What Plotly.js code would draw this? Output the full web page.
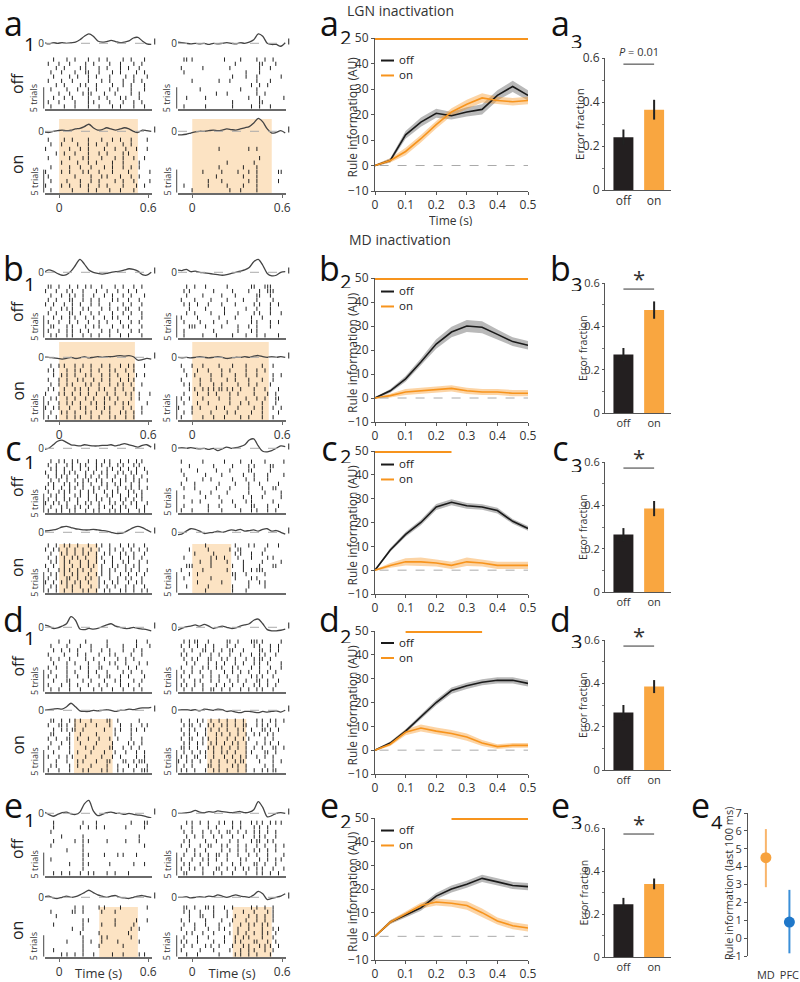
<!DOCTYPE html>
<html><head><meta charset="utf-8">
<script src="https://cdn.plot.ly/plotly-3.0.1.min.js"></script>
<style>body{margin:0;background:#fff}#chart{width:800px;height:982px}</style>
</head><body><div id="chart"></div>
<script>
// ---------------- DATA ----------------
const psthT = [-0.1,-0.07,-0.04,-0.01,0.02,0.05,0.08,0.11,0.14,0.17,0.2,0.23,0.26,0.29,0.32,0.35,0.38,0.41,0.44,0.47,0.5,0.53,0.56,0.59,0.62];
const RASTER_T0 = -0.1, RASTER_BIN = 0.018;

// PSTH traces (arbitrary units, 0 = baseline)
const psthA_offL = [0.5,-0.5,0.5,0,0.5,0,0.5,1,3,6,8,6,2,1,1.5,2.5,1.5,0.5,1,2,4.5,5,2,-0.5,-1];
const psthA_offR = [1,0.5,0,-0.5,0,-0.5,0,-1,0,-0.5,0,0.5,0,-0.5,0.5,0,1,3,8,6,0,-1,-1,-2.5,0.5];
const psthA_onL  = [-0.5,-1,0,0.5,1,0.5,1,2,2.5,4,6,3,1,1.5,3,2,1,2,3,2,0,-1,1,0.5,0];
const psthA_onR  = [-3,-3,-2.5,-1.5,-0.5,0,0,0.5,1,0.5,1,2,1.5,1,2,3,4,7,11,8,2,-1.5,-1,0.5,-1.5];
const psthB_offL = [0,2,1,-1,-2.5,-2,1,6,11,7,2,0,-1,-1.5,-1,0,0.5,1,2,3,2.5,1,-2,-2.5,0];
const psthB_offR = [2,1.5,2.5,0.5,1,0,-0.5,-1,-1.5,-2,-2.5,-2,-1,0,1,2,4,9,11,6,-1,-3,-2.5,0,0.5];
const psthB_onL  = [0,0,-0.5,-1,-1.5,-1,0,-1,-0.5,0.5,-0.5,0,0.5,0,0.5,0.5,1,1.5,1,1.5,0.5,-2.5,-2,-1,-1.5];
const psthB_onR  = [0,-0.5,0,-0.5,0,0.5,0,-0.5,0,0.5,0,-1,-0.5,0,0,0.5,0,1,1.5,0.5,0,0.5,0,0.5,0];
const psthC_offL = [-1,0,3,6,7,5,3,2.5,2,3,2.5,2,2,2.5,2.5,3,2,3,4,3,2,1,2.5,3,1];
const psthC_offR = [0,0.5,0,0.5,0,-0.5,0,-1,0,-2,-0.5,1,0,0.5,1.5,3,7,8,2,-2.5,-3,-2,0,2,1.5];
const psthC_onL  = [1,1.5,2,3,4.5,5,4,3,2.5,2,2,2.5,2,1.5,1,0,-1,-1,0,2,4,5,4,2,0];
const psthC_onR  = [-2,-1.5,1,3,2.5,1,-1,-0.5,0,1,0,1,2,1.5,2.5,1,1.5,2,1,2.5,3,1,1.5,0,-1.5];
const psthD_offL = [2,1,-1,-0.5,1,3,9,6,-1.5,-2,-1,-1.5,-1,0.5,2,3,1,0,-1,-1,0,-1,-1.5,-2,-3];
const psthD_offR = [-2.5,-1,0.5,1,2,1,2.5,1,-1,0,1,0,-1,-0.5,1,2,3,6,7,3,-2,-3,-3,-2.5,-1.5];
const psthD_onL  = [0,0.5,1,1.5,1,3,6,3,-0.5,-1,-1,0,-0.5,0,0.5,0,-1,0,0,1,0.5,1.5,2,2,2.5];
const psthD_onR  = [0,0.5,0.5,0,0.5,-0.5,1,0.5,0,1,0.5,-1,-0.5,-1.5,-2,-1,-1,-1.5,-2,-1,-1.5,-1,-0.5,-1.5,0];
const psthE_offL = [1,-1,-2.5,-1,0.5,1,-0.5,-1,1,8,11,2,-2,-1,0.5,1,0,0,-1,0,-1,-1.5,-2,-3,-4];
const psthE_offR = [0,0,0.5,1,2.5,1,0.5,1.5,1,2,1.5,1,0.5,1,1.5,0.5,1,3,10,5,-3,-2,0,0.5,0];
const psthE_onL  = [0.5,1,-0.5,-1,0,1,0,0.5,2,4,6,4,2,1,0,1,1.5,0,-0.5,-1,0,1,1.5,0.5,0];
const psthE_onR  = [0,0,0.5,-0.5,0,0.5,0,1,0.5,2,1,0,1,2,1,0.5,0,2,5,3,-2,-1,0,1,3];

// Rasters: one string per trial (first = bottom), '|' = spike in an 18 ms bin starting at -0.1 s
const rasterA_offL = [
"..|....|...|....|...|....|..|....|...|..",
".|...|.....|....|.|.....|....|...|..|...",
"...|...|..|.....|...|..|....|.|....|....",
".....|...|....|.||....|...|.....|..|....",
"..|.....|...|...|..|....|..|....|....|..",
"....|..|.....|.|...|.....|...|..|....|..",
".|....|...|.....|....|..|....|...|..|...",
"...|.....|..|...|..|....|.....|..|....|.",
"..|...|....|...||...|....|..|.....|..|..",
"....|..|.....|.|....|..|....|..|...|....",
".|...|...|.....|..|.....|...|....|..|...",
"...|....|..|....|...|..|.....|..|....|.."];
const rasterA_offR = [
"..|.......|.........|......|..|...|.....",
"....................|.........||........",
"...|......|...............|...|........|",
"..............|...|..........|..|.......",
"........|..............|.....|..........",
"...........................|..|..|.....",
".....|.........|...|.........|....|.....",
"....................|....|...|........|.",
"..|......................|....|.........",
".|.......|.........|..........|...|.....",
".....................|........||....|...",
"..||.|...........|.....|.....|..|..|...."];
const rasterA_onL = [
"..|.......|.....|..|....|...|....|......",
"|.....|..|...|..|...|..|.....|....|..|..",
"..|.....|....|...|..|.....|..|...|.....|",
".|.........|.....|...|.|....|...|..|....",
"|.....|..|....|.|...|....|.....|.......|",
"..|......|...|...|....|..|...|..|..|....",
"......|.....|...|..|.....|...|.....|....",
".|.......|....|.|....|....|..|...|...|..",
"....|..|...|....|...|..|.....|.|........",
"|........|...|..|.....|...|...|...|...|.",
"..|...|.....|...|..|...|.....|..|.......",
".|.....|..|.....|....|...|..|...|.....|."];
const rasterA_onR = [
".....|.............|...|.....|..........",
"..|........|......|.....|....|..........",
"...........|....|.........|..|.......|..",
"..............|.........|....|..........",
".........|......|.....|...|..|.......||.",
"...............|........|....|.........",
"..................|.........|...........",
"..............................|.........",
"........................................",
"...............|..........|..|..........",
"........................................",
"........................................"];
const rasterB_offL = [
"..|.|...|.|...|..|..|...|...|..|....|...",
".|...|..|.|..|..|....|..|..|....|..|....",
"..||....|.|....|..|.|....|...|.|....|...",
".|...|...|..|...|...|..|....|...|..|....",
"...|..|..|.|...|..|...|..|.|...|....|...",
".|..|....||..|...|..|....|...|..|...|...",
"..|...|.|.|...|.|....|..|..|..||...|....",
"|..|...|..|..|...|..|...|....|..|...|...",
".|..|....||...|..|..|....|.|...|...|....",
"..|...|..|.|..|...|...|..|...|..|....|..",
"|...|...|.|...|....|...|...|...|..|.....",
".||..|...|..|..|.|...|....|..|...|..|..."];
const rasterB_offR = [
"..|......|....|.....|....|...|..|....|..",
"..|..........|........|....|.|.........",
"....|||...|.....|.....|...|..|....|....",
"..|.....|....|....|........|.|....|..|.",
".|.....|.......|.....|.....|...|.......",
"...|..|.....|....|....|.....|.|...|...|",
"....|.....|......|.......|...|....|....",
"..|.|..|...|....|....|......|.|...|..|.",
".|....|.....|.....|.....|....|.....|...",
"...|.....|......|....|.......||...|....",
"..|.|........|......|.....|...|..|||...",
"...|..|...|.......|........||...|||...."];
const rasterB_onL = [
".|..|...|..|.|...|..|...|.|...|..|......",
"..|...|.|..|...|.|...|..|...|.|..|..|...",
"|..|.|...|...|.|...|..|.|....|..|...|...",
".|...|..|.|..|...|.|..|...|..|.|......|.",
"..|.|...|..|...|..|...|.|..|....|..|....",
"|....|.|..|..|..|..|...|..|...|.|..|...|",
".|.|...|...|.|..|...|.|...|..|...|......",
"..|..|..|.|....|.|..|...|..|.|..|...|...",
".|...|..|...|.|...|..|..|...|..|.|......",
"...|..|.|..|...|.|...|..|..|...|..|..|..",
".|.|....|..|.|...|..|...|.|...|..|......",
"..|..|.|...|..|..|...|..|...|..|.|...|.."];
const rasterB_onR = [
".|.......|...|...|.....|..|....|...|....",
"..|..|......|.....|..|.....|...|.....|..",
"|....|..|.....|..|....|.....|..|...|..|.",
"..|....|...|.......|...|..|....|....|...",
".|..|....|.....|...|.....|...|..|...||..",
"..|....|...|..|....|..|.....|....|..|...",
"....|.|..|.|.|.||.|.|..|....|...|....|..",
"..|.|...|....|..|.....|...|..|....|.....",
".|......|...|.....|..|....|....|...|....",
"...|..|.....|...|....|...|...|.....|..|.",
"..|....|...|....|..|.....|...|..|.......",
".|...|...|.....|....|....|.....|...|...."];
const rasterC_offL = [
".|..|.|..|.|...|..|.|...|.|.|..|...|.|.",
"..|...|.|..|.|..|...|.|..|..|.|...|..|.",
"|..|.|..|...|..|.|..|...|.|..|..|.|...|",
".|..|..|.|..|...|..|.|..|...|.|..|..|..",
"..|.|..|...|.|..|..|...|.|..|..|..|.|..",
".|...|.|.|...|..|.|...|..|.|...|.|..|..",
"|..|..|..|.|..|...|.|..|...|..|.|..|..|",
".|.|...|.|..|.|..|...|.|..|.|...|..|...",
"..|..|..|..|..|.|..|.|...|..|.|..|.|..|",
".|..|.|.|...|..|.|..|..|..|...|..|..|..",
"|...|..|.|.|...|..|..|.|...|.|..|.|...|",
"..|.|..|..|..|..|..|...|.|..|..|..|..|.",
".|..|...|.|..|.|...|.|..|..|.|...|.|...",
"..|..|.|..|.|...|..|..|.|...|..|..|.|.."];
const rasterC_offR = [
".|...|.....|....|......|...|.|...|..|...",
"..|........|...|.....|.....||....|...|..",
".....|..|.......|...|....|.|.......|....",
"..|.......|....|........|..|...|......|.",
"........|...|.....|.......|.....|.....|.",
"..|...|.......|....|......|....|...||...",
".|....|........|.....|....|...|......|..",
"...|.....|..|.......|....|..|....|......",
"..|.......|.....|.......|...|....|.....|",
".|.....|......|....|......||......|.....",
"....|........|......|.....|.|.....||....",
".|.......|.......|.....|...|....|......|"];
const rasterC_onL = [
".|..|..|..|...|.|..|..|.|...|.|..|..|.|",
"..|.|...|.|..|...|..|..|..|...|..|...|.",
"|..|..|.|..|.|..|...|.|..|.|...|..|.|..",
".|..|...||..|..|.|..|...|..|..|.|...|..",
"..|.|..|..|.|...|..|.|..|...|..|..|..|.",
".|...|.|.|..|.|..|...|..|.|...|.|..|..|",
"|..|...|..|..|..|.|..|...|.|..|..|.|...",
"..|.|..|.|...|..|..|..|..|...|.|...|..|",
".|..|..|..|.|..|...|.|...|..|..|.|..|..",
"..|...|.|..|..|.|..|..|.|...|.|..|...|.",
"|..|.|..|..|..|..|..|...|.|..|..|..|..|",
".|..|..|.|..|...|..|.|..|...|..|.|...|."];
const rasterC_onR = [
"..........|.........|....|..............",
"...|.......|........|.....|.....|.......",
".......|........|.........|...|.|.......",
"..|.........|........|.....|.|..........",
"....|..|............||...|......|.......",
".|.......|........|.....|..|.|||........",
"...|||......|.......|...|.....|....||...",
"........|...|.....|.....|......|......|.",
"..|.........|.|..|....|....|.....|.|....",
"......|......|.......|.|...|...|........",
"....|......|.......|..||........|.......",
"..........|..........|....|.|....|...|.."];
const rasterD_offL = [
"..|..|...|...|....|..|...|...|...|..|...",
".|....|..|..|...|...|..|....|..|...|....",
"...|....||....|..|....|...|.|....|..|...",
".|..|...|...|...|...|..||...|..|.....|..",
"..|.....|..|....|..|...|.....|..|...|...",
".|..|...|....|..|...||.....|...|..|.....",
"...|....|..|....|...|...|.|...|....|..|.",
"..|..|...|.....|..|...|....|..|..|......",
".|.....|....|..|....|...|.|.....|...|...",
"...|..|..|..|....|...|..|....|...|..|...",
"..|.....|....|...|.....|.....|....|....|",
".....|...|.....|.......|..........|...|."];
const rasterD_offR = [
"..|..|...|..||..|..|...|..|..|.|...|....",
".|.|..|..|....|..|..|...|...|.|..|..|...",
"..|...|.|...|..|...|..|..|...||..|...|..",
".|..|....|..|..|..|...|....|.|.|...|....",
"..|..|..|...|....|..|..|..|...|..|..|...",
".|...|...|.|..|.|...|.|....|..|...|...|.",
"...|..|....|..|..|...|..|...|.|..|....|.",
"..|..|.|...||...|.|..|...|..|.||..|.....",
".|.|....|...|..|...|...|...|..|.|...|...",
"..|..|...||..|..|..||...|.....||..|..|..",
".|..|..|..|..|....|..|......|.|...|..|..",
"..|.|.||...|......||..|....|||.|......|."];
const rasterD_onL = [
".|...|...|....|.|....|.|...|.|...|..|||.",
"..|.|....|..|....|.....|...|...|..|...|.",
"....|...|...|.|....|...||....||..|.|||..",
".|...|..|.|....|.....|...|..|.....|..|..",
"...|.....|..|....|....|...|...|...|..|..",
".|...|...|.....|..|.....||...|..|..|....",
"..|...|..|...|.....|.....|.....|.|..|...",
".|..|...||..|...|...|...|..|....|...|...",
"..||.....|...|.....|......|.....|.......",
"...|..|.|.||..|.......|...|.|...|.|..|..",
".|...||.|..|...|...|....|...|...|...|.|.",
"..||..|..|.|.|...|.....||..|.......|...."];
const rasterD_onR = [
".|.|..|...|..|.|..|...|..|..|..|.|.||...",
"..|..|.....||..|....|.|..|......|..|....",
"|..|.|..|...|..|..|..|.||.....|....|..|.",
".|.|..||..|..|...|..|..|.|...|..|..|....",
"..|..|..|.|..|..|.|..|...|.|....||..|...",
".||.|..|...|.|..|..|..|..|..|..|...||..|",
"..|.|..|.|..|.|..|..|.|..|...|..|.|..|..",
".|..||...|.|..|...|..|..|.|.....|..|....",
"..|.|..|..|...|.|..|..|..|..|.|..|.|....",
".|..|.|...|.|..|..|...|.|..|...||.|..|..",
"..|.||..|..|.|..|.|..|..||...|.|.|..|...",
".|..|..|.|..|..|..|..|..|....|.|..|.|..|"];
const rasterE_offL = [
"...|..|..|...|..|.|....|..|....|........",
"..............|.........................",
".........|....|.|.......|........|...|..",
"..|...........|.........................",
"..............|.|.....|....|.|....|.....",
"........|.....|.........................",
"..|...........|......................|..",
"...|.......|..|.|......|......|....|....",
"......|.......|....................|....",
"..|.....................................",
"...|.........|..|..|..|.......|......|..",
"...|..........|....|............|....||."];
const rasterE_offR = [
"..||.....|...|..|...|....|...|.|..|..|..",
".|..|.|..|....||..|..|..|.|..|.|...|...|",
"..|.|...|..|....|...|..|....||..|...|...",
".|...|...|.|..|...|....|.|....|..|..|.|.",
"..|...|.|..|..||..|...|...|..|...|.....|",
"...|..|...|.....|..|..|..|..|.|..|..|...",
".|..|...|..||...|.|...|..|...|..|...|..|",
"..|.|.....|...|....|..|....|.||..|.|....",
"...|..|..|...|..|...|...|...|.|.|...|...",
"..|..|...|..|..|..||..|..|..|.|..|..|...",
".|...|.....|..|.....|..|....|.|..|......",
"...|.|..|..|...|.|..|..|...|.|.|..|.|.|."];
const rasterE_onL = [
"......|.|..|..|...|......|...|.....|.|..",
"...|..........|.........................",
"..............|.....|........|..........",
"........|.....|..|...|.....|.......|....",
"..............|......|.|........|.......",
".............|......|..........|........",
"..........|...|.................|..|....",
"...|..........|......|....|......|......",
"..............|.|.........|.......|...|.",
"....|...................................",
"..|.......||..|......|....|............",
"...........|..|.....|.|.....|.........|."];
const rasterE_onR = [
"...|...|.......|.....|.|..|..|....|.....",
".|......|....|.....|...|..|.|...|..|....",
"..|..|....|.|..|....|...|.|...|.|.|..|..",
".|.|...|.....|...|...|.|....||...|..|...",
"..|....|...|.....|...|..|.|....|...|....",
"...|.|...|...|.....|..|..|..|..|.|..|...",
".|....|....|...|.|....|...|....|...|.|..",
"..|...|...|....|...|...|..|.|..|.|......",
".|..|.....|.....|...|....|...|..|..|....",
"....|...||...|....|..|....|..|..|..|....",
"..|.|...|....|....|.....|...|....|.|....",
"..||..|...||.|...|..|......|.|..|..|...."];

// Event markers (red triangles) per row: [off-left, off-right, on-left, on-right]
const eventTimes = [[0.21,0.45,0.19,0.445],[0.09,0.445,null,null],[0.04,0.40,0.05,null],[0.07,0.44,0.065,null],[0.165,0.44,0.165,null]];
// Laser-on window in rasters (s) per row
const lightOn  = [0, 0, 0, 0.10, 0.27];
const lightOff = [0.53, 0.51, 0.26, 0.36, 0.53];

// Rule information (AU)
const ruleT = [0,0.05,0.1,0.15,0.2,0.25,0.3,0.35,0.4,0.45,0.5];
const ruleA_off = [0,2,12,17,20.5,19.5,21,22,27.5,31,27.5];
const ruleA_offSem = [0.3,0.8,1.5,1.8,1.8,1.5,1.8,2,2,2.2,2];
const ruleA_on = [0,2,5.5,10.5,16,21,24,26.5,25.5,25,25.5];
const ruleA_onSem = [0.3,0.8,1.5,1.5,1.5,1.5,1.8,1.8,1.5,1.5,1.5];
const ruleB_off = [0,3,8,15,22.5,27.5,30,29.5,26.5,23.5,22];
const ruleB_offSem = [0.3,0.8,1.2,1.5,2,2.2,2.5,2.5,2,1.8,1.8];
const ruleB_on = [0,1,2.5,3,3.5,4,3,2.5,2.5,2,2];
const ruleB_onSem = [0.3,0.8,1.2,1.3,1.3,1.3,1.3,1.3,1.3,1.3,1.3];
const ruleC_off = [0,8.5,15,20,26.5,28.5,27,26.5,25,20.5,17.5];
const ruleC_offSem = [0.3,0.8,1,1.2,1.3,1.3,1.2,1.2,1.2,1,1];
const ruleC_on = [0,2,3.5,3.5,3,2,3.5,3,2,2,2];
const ruleC_onSem = [0.3,1,1.5,1.8,1.5,1.5,1.8,1.5,1.5,1.5,1.5];
const ruleD_off = [0,3,8,14,20,25,27,28.5,29.3,29.3,28];
const ruleD_offSem = [0.3,0.6,0.8,1,1.2,1.3,1.3,1.3,1.3,1.3,1.3];
const ruleD_on = [0,2.5,7.5,9.3,8,7,5.5,3,1.5,2,2];
const ruleD_onSem = [0.3,0.8,1.2,1.5,1.5,1.5,1.5,1.3,1,1,1];
const ruleE_off = [0,6,9,12,17,20,22,24.5,23,21.5,21];
const ruleE_offSem = [0.3,0.8,1,1.2,1.3,1.5,1.5,1.5,1.5,1.5,1.5];
const ruleE_on = [0,6,9.5,13,14.5,14,13,10,6.5,4.5,3.5];
const ruleE_onSem = [0.3,0.8,1,1.2,1.5,1.5,1.8,1.8,1.5,1.5,1.5];
// Inactivation period bars (top of rule-info panels)
const barStart = [0, 0, 0, 0.1, 0.25];
const barEnd   = [0.5, 0.5, 0.25, 0.35, 0.5];
const ruleTicks = [0,0.1,0.2,0.3,0.4,0.5];
const ruleTickText = ['0','0.1','0.2','0.3','0.4','0.5'];
const ruleYTicks = [-10,0,10,20,30,40,50];
const ruleYTickText = ['\u221210','0','10','20','30','40','50'];
const legendNames = ['off', 'on'];

// Error fraction
const errCats = ['off','on'];
const errOff = [0.24, 0.27, 0.265, 0.265, 0.245];
const errOffSe = [0.035, 0.03, 0.03, 0.035, 0.03];
const errOn = [0.365, 0.475, 0.385, 0.385, 0.34];
const errOnSe = [0.045, 0.04, 0.035, 0.03, 0.025];
const sigText = ['<i>P</i> = 0.01', '*', '*', '*', '*'];
const errTicks = [0, 0.2, 0.4, 0.6];
const errTickText = ['0','0.2','0.4','0.6'];

// e4
const e4Cats = ['MD','PFC'];
const e4Val = [4.5, 0.9];
const e4Hi = [6.1, 2.7];
const e4Lo = [2.85, -0.85];
const e4Ticks = [-1,0,1,2,3,4,5,6,7];

const rowLetters = ['a','b','c','d','e'];
const rastersByRow = [
  [rasterA_offL, rasterA_offR, rasterA_onL, rasterA_onR],
  [rasterB_offL, rasterB_offR, rasterB_onL, rasterB_onR],
  [rasterC_offL, rasterC_offR, rasterC_onL, rasterC_onR],
  [rasterD_offL, rasterD_offR, rasterD_onL, rasterD_onR],
  [rasterE_offL, rasterE_offR, rasterE_onL, rasterE_onR]];
const psthByRow = [
  [psthA_offL, psthA_offR, psthA_onL, psthA_onR],
  [psthB_offL, psthB_offR, psthB_onL, psthB_onR],
  [psthC_offL, psthC_offR, psthC_onL, psthC_onR],
  [psthD_offL, psthD_offR, psthD_onL, psthD_onR],
  [psthE_offL, psthE_offR, psthE_onL, psthE_onR]];
const ruleByRow = [
  [ruleA_off, ruleA_offSem, ruleA_on, ruleA_onSem],
  [ruleB_off, ruleB_offSem, ruleB_on, ruleB_onSem],
  [ruleC_off, ruleC_offSem, ruleC_on, ruleC_onSem],
  [ruleD_off, ruleD_offSem, ruleD_on, ruleD_onSem],
  [ruleE_off, ruleE_offSem, ruleE_on, ruleE_onSem]];

// ---------------- LAYOUT GEOMETRY (pixels) ----------------
const FONT = '"Open Sans", "Noto Sans", Arial, sans-serif';
const W = 800, H = 982;
const fx = p => p / W;
const fy = p => 1 - p / H;
const ROWGEOM = [
  {psthOff:[28,48],  rastOff:[57,109],  psthOn:[116,136], rastOn:[137,193], shadeTop:119},
  {psthOff:[257,277],rastOff:[284,338], psthOn:[342,362], rastOn:[363,420], shadeTop:342},
  {psthOff:[433,453],rastOff:[459,513], psthOn:[517,537], rastOn:[543,593], shadeTop:544},
  {psthOff:[612,632],rastOff:[639,692], psthOn:[695,715], rastOn:[718,773], shadeTop:719},
  {psthOff:[798,818],rastOff:[820,876], psthOn:[882,902], rastOn:[905,957], shadeTop:907}];
const COLX = [[45,152],[178,286]];
const T_RANGE = [-0.095, 0.625];
const RULE_Y = [[38,191],[278,422],[451,594],[631,774],[818,960]];
const BAR_Y = [[58,190],[283,413],[462,592],[640,770],[828,957]];
const LETTER_BASE = [35, 280, 460, 631, 817];
const SUB_Y = [[44,37,41],[284,281,284],[462,456,465],[638,636,641],[820,821,822]];
const LEG_MID = [29, 20, 20, 18.5, 19];
const LEG_FONT = 11.5, LEG_GAP = LEG_FONT * 1.3;

const C_OFF = '#1a1a1a', C_ON = '#f7941d';

const layout = {width:W, height:H, margin:{l:0,r:0,t:0,b:0,pad:0},
  paper_bgcolor:'#fff', plot_bgcolor:'rgba(0,0,0,0)', showlegend:false,
  font:{family:FONT, size:12, color:'#333'}, shapes:[], annotations:[]};
const data = [];
let nx = 0, ny = 0;
const axName = (k, n) => k + 'axis' + (n === 1 ? '' : n);
const axRef = (k, n) => k + (n === 1 ? '' : n);
const base = {showgrid:false, zeroline:false, fixedrange:true};
function addX(o){ nx++; layout[axName('x',nx)] = Object.assign({}, base, o); return nx; }
function addY(o){ ny++; layout[axName('y',ny)] = Object.assign({}, base, o); return ny; }
function ann(o){ layout.annotations.push(Object.assign({showarrow:false, xref:'paper', yref:'paper'}, o)); }

function rasterPanel(r, col, cond, trials, psth, evt){
  const g = ROWGEOM[r];
  const xr = COLX[col];
  const rd = cond === 'off' ? g.rastOff : g.rastOn;
  const pd = cond === 'off' ? g.psthOff : g.psthOn;
  const showT = cond === 'on' && (r === 0 || r === 1 || r === 4);
  const xi = nx + 1, yr = ny + 1, yp = ny + 2;
  const xo = {domain:[fx(xr[0]), fx(xr[1])], range:T_RANGE, anchor:axRef('y',yr),
    showline:true, linecolor:'#6a6a6a', linewidth:1.5,
    tickmode:'array', tickvals:[0,0.6], ticktext:['0','0.6'],
    ticks: showT ? 'outside' : '', ticklen:3, tickcolor:'#6a6a6a',
    showticklabels: showT, tickfont:{size:12, color:'#333'}};
  if (r === 4 && cond === 'on') xo.title = {text:'Time (s)', font:{size:13, color:'#333'}, standoff:1};
  addX(xo);
  addY({domain:[fy(rd[1]), fy(rd[0])], range:[-0.6, trials.length - 0.4], anchor:axRef('x',xi), visible:false});
  addY({domain:[fy(pd[1]), fy(pd[0])], range:[-4, 13], anchor:axRef('x',xi),
    tickmode:'array', tickvals:[0], ticktext:['0'], ticks:'', showline:false,
    tickfont:{size:10, color:'#333'}});
  const xa = axRef('x',xi), ya = axRef('y',yr), yb = axRef('y',yp);
  const xs = [], ys = [];
  trials.forEach((row, k) => {
    for (let i = 0; i < row.length; i++) if (row[i] === '|') { xs.push(RASTER_T0 + (i + 0.5) * RASTER_BIN); ys.push(k); }
  });
  data.push({x:xs, y:ys, xaxis:xa, yaxis:ya, type:'scatter', mode:'markers',
    marker:{symbol:'line-ns-open', size:3, color:'#222', line:{width:1, color:'#222'}}, hoverinfo:'skip'});
  data.push({x:psthT, y:psth, xaxis:xa, yaxis:yb, type:'scatter', mode:'lines',
    line:{color:'#444', width:1.3, shape:'spline', smoothing:0.8}, hoverinfo:'skip', cliponaxis:false});
  if (evt !== null) {
    data.push({x:[evt], y:[-1.4], xaxis:xa, yaxis:ya, type:'scatter', mode:'markers',
      marker:{symbol:'triangle-up', size:7, color:'#e31e24'}, cliponaxis:false, hoverinfo:'skip'});
  }
  layout.shapes.push({type:'line', xref:xa + ' domain', x0:0, x1:1, yref:yb, y0:0, y1:0,
    line:{color:'#aaa', width:1, dash:'dash'}});
  layout.shapes.push({type:'line', xref:xa + ' domain', x0:1.025, x1:1.025, yref:yb, y0:-1, y1:4,
    line:{color:'#444', width:1.2}});
  layout.shapes.push({type:'line', xref:xa + ' domain', x0:-0.012, x1:-0.012, yref:ya, y0:-0.5, y1:4.5,
    line:{color:'#444', width:1}});
  layout.annotations.push({showarrow:false, xref:xa + ' domain', x:-0.02, xanchor:'right',
    yref:ya, y:2, yanchor:'middle', text:'5 trials', textangle:-90, font:{size:9, color:'#333'}});
  if (cond === 'on') {
    layout.shapes.push({type:'rect', xref:xa, x0:lightOn[r], x1:lightOff[r], yref:'paper',
      y0:fy(rd[1]), y1:fy(g.shadeTop), fillcolor:'#fce3c3', line:{width:0}, layer:'below'});
  }
}

function band(x, m, s, xa, ya, color){
  const up = m.map((v,i) => v + s[i]);
  const lo = m.map((v,i) => v - s[i]);
  return {x:x.concat(x.slice().reverse()), y:up.concat(lo.reverse()), xaxis:xa, yaxis:ya,
    type:'scatter', mode:'lines', fill:'toself', fillcolor:color, line:{width:0}, hoverinfo:'skip'};
}

function rulePanel(r){
  const dom = RULE_Y[r];
  const [off, offS, on, onS] = ruleByRow[r];
  const xi = nx + 1, yi = ny + 1;
  addX({domain:[fx(375), fx(528)], range:[0, 0.5], anchor:axRef('y',yi),
    showline:true, linecolor:'#555', linewidth:1, ticks:'outside', ticklen:3, tickcolor:'#555',
    tickmode:'array', tickvals:ruleTicks, ticktext:ruleTickText, tickfont:{size:12, color:'#333'}});
  addY({domain:[fy(dom[1]), fy(dom[0])], range:[-10, 50], anchor:axRef('x',xi),
    showline:true, linecolor:'#555', linewidth:1, ticks:'outside', ticklen:3, tickcolor:'#555',
    tickmode:'array', tickvals:ruleYTicks, ticktext:ruleYTickText, tickfont:{size:12, color:'#333'}});
  ann({x:fx(352), y:fy((dom[0] + dom[1]) / 2 + 3), xanchor:'center', yanchor:'middle', textangle:-90,
    text:'Rule information (AU)', font:{size:12, color:'#333'}});
  if (r === 0) ann({x:fx(451), y:fy(220), xanchor:'center', yanchor:'middle', text:'Time (s)',
    height:12, borderpad:0, font:{size:12, color:'#333'}});
  const xa = axRef('x',xi), ya = axRef('y',yi);
  layout.shapes.push({type:'line', xref:xa + ' domain', x0:0.03, x1:1, yref:ya, y0:0, y1:0,
    line:{color:'#aaa', width:1, dash:'dash'}});
  data.push(band(ruleT, off, offS, xa, ya, 'rgba(80,80,80,0.4)'));
  data.push(band(ruleT, on, onS, xa, ya, 'rgba(247,148,29,0.4)'));
  data.push({x:ruleT, y:off, xaxis:xa, yaxis:ya, type:'scatter', mode:'lines', line:{color:C_OFF, width:1.6}, hoverinfo:'skip'});
  data.push({x:ruleT, y:on, xaxis:xa, yaxis:ya, type:'scatter', mode:'lines', line:{color:C_ON, width:1.6}, hoverinfo:'skip'});
  data.push({x:[barStart[r], barEnd[r]], y:[50, 50], xaxis:xa, yaxis:ya, type:'scatter', mode:'lines',
    line:{color:C_ON, width:4}, cliponaxis:false, hoverinfo:'skip'});
  const mid = dom[0] + LEG_MID[r];
  ann({x:fx(398), y:fy(mid), xanchor:'left', yanchor:'middle', align:'left', borderpad:0,
    text:legendNames.join('<br>'), font:{size:LEG_FONT, color:'#222'}});
  [[mid - LEG_GAP / 2, C_OFF], [mid + LEG_GAP / 2, C_ON]].forEach(([yy, c]) => {
    layout.shapes.push({type:'line', xref:'paper', yref:'paper', x0:fx(381), x1:fx(394),
      y0:fy(yy + 1), y1:fy(yy + 1), line:{color:c, width:2}});
  });
}

function barPanel(r){
  const dom = BAR_Y[r];
  const xi = nx + 1, yi = ny + 1;
  const fs = r === 0 ? 12 : 11;
  addX({type:'category', categoryarray:errCats, domain:[fx(605), fx(671)], range:[-0.6, 1.55],
    anchor:axRef('y',yi), showline:true, linecolor:'#555', linewidth:1, ticks:'',
    tickfont:{size:fs, color:'#333'}});
  addY({domain:[fy(dom[1]), fy(dom[0])], range:[0, 0.6], anchor:axRef('x',xi),
    showline:true, linecolor:'#555', linewidth:1, ticks:'outside', ticklen:2, tickcolor:'#555',
    tickmode:'array', tickvals:errTicks, ticktext:errTickText, tickfont:{size:fs, color:'#333'},
    minor:{tickmode:'array', tickvals:[0.1,0.3,0.5], ticks:'outside', ticklen:2, tickcolor:'#777'}});
  ann({x:fx(r === 0 ? 579 : 583), y:fy((dom[0] + dom[1]) / 2), xanchor:'center', yanchor:'middle', textangle:-90,
    text:'Error fraction', font:{size:fs - 0.5, color:'#333'}});
  const xa = axRef('x',xi), ya = axRef('y',yi);
  data.push({type:'bar', x:errCats, y:[errOff[r], errOn[r]], xaxis:xa, yaxis:ya, width:0.65,
    marker:{color:['#231f20', '#f9a640'], line:{width:0}},
    error_y:{type:'data', array:[errOffSe[r], errOnSe[r]], color:'#222', thickness:2, width:0},
    hoverinfo:'skip'});
  layout.shapes.push({type:'line', xref:xa, x0:0, x1:1, yref:ya, y0:0.572, y1:0.572,
    line:{color:'#555', width:1.2}});
  if (r === 0) {
    layout.annotations.push({showarrow:false, xref:xa, yref:ya, x:0.5, y:0.585, yanchor:'bottom',
      text:sigText[r], font:{size:11, color:'#333'}});
  } else {
    layout.annotations.push({showarrow:false, xref:xa, yref:ya, x:0.5, y:0.545, yanchor:'bottom',
      text:sigText[r], font:{size:22, color:'#333'}});
  }
}

function e4Panel(){
  const xi = nx + 1, yi = ny + 1;
  addX({type:'category', categoryarray:e4Cats, domain:[fx(748), fx(800)], range:[-0.76, 1.45],
    anchor:axRef('y',yi), showline:false, ticks:'outside', ticklen:9, tickcolor:'rgba(0,0,0,0)',
    tickfont:{size:11, color:'#333'}});
  addY({domain:[fy(956), fy(813)], range:[-1, 7], anchor:axRef('x',xi), showline:true,
    linecolor:'#555', linewidth:1, ticks:'outside', ticklen:3, tickcolor:'#555',
    tickmode:'array', tickvals:e4Ticks, tickfont:{size:11, color:'#333'}});
  ann({x:fx(728), y:fy(884), xanchor:'center', yanchor:'middle', textangle:-90,
    text:'Rule information (last 100 ms)', font:{size:11, color:'#333'}});
  const xa = axRef('x',xi), ya = axRef('y',yi);
  const cols = [['#f7a23e','#f9b56b'], ['#1f77c9','#3b8fd8']];
  e4Cats.forEach((c, i) => {
    data.push({type:'scatter', mode:'markers', x:[c], y:[e4Val[i]], xaxis:xa, yaxis:ya,
      marker:{size:11, color:cols[i][0]},
      error_y:{type:'data', symmetric:false, array:[e4Hi[i] - e4Val[i]], arrayminus:[e4Val[i] - e4Lo[i]],
        color:cols[i][1], thickness:2, width:0}, cliponaxis:false, hoverinfo:'skip'});
  });
}

// ---------------- BUILD ----------------
for (let r = 0; r < 5; r++) {
  ['off','on'].forEach((cond, k) => {
    [0,1].forEach(col => {
      const idx = k * 2 + col;
      rasterPanel(r, col, cond, rastersByRow[r][idx], psthByRow[r][idx], eventTimes[r][idx]);
    });
  });
  rulePanel(r);
  barPanel(r);
}
e4Panel();

ann({x:fx(400), y:fy(10), xanchor:'center', yanchor:'middle', text:'LGN inactivation', font:{size:14, color:'#333'}});
ann({x:fx(400), y:fy(239), xanchor:'center', yanchor:'middle', text:'MD inactivation', font:{size:14, color:'#333'}});

ROWGEOM.forEach(g => {
  ann({x:fx(17), y:fy((g.rastOff[0] + g.rastOff[1]) / 2), xanchor:'center', yanchor:'middle', text:'off', textangle:-90, font:{size:16, color:'#222'}});
  ann({x:fx(17), y:fy((g.rastOn[0] + g.rastOn[1]) / 2), xanchor:'center', yanchor:'middle', text:'on', textangle:-90, font:{size:16, color:'#222'}});
});

const colL = [2, 318, 549];
function panelLabel(letter, digit, L, B, subY){
  ann({x:fx(L), y:fy(B - 12), xanchor:'left', yanchor:'middle', text:letter, width:21, height:28, borderpad:0,
    font:{size:34, color:'#111'}});
  ann({x:fx(L + 21), y:fy(subY), xanchor:'left', yanchor:'middle', text:digit, height:14, borderpad:0,
    font:{size:20, color:'#111'}});
}
rowLetters.forEach((l, r) => {
  colL.forEach((L, c) => panelLabel(l, String(c + 1), L, LETTER_BASE[r], SUB_Y[r][c]));
});
panelLabel('e', '4', 689, LETTER_BASE[4], SUB_Y[4][2]);

Plotly.newPlot('chart', data, layout, {staticPlot:true, displayModeBar:false});
</script></body></html>
